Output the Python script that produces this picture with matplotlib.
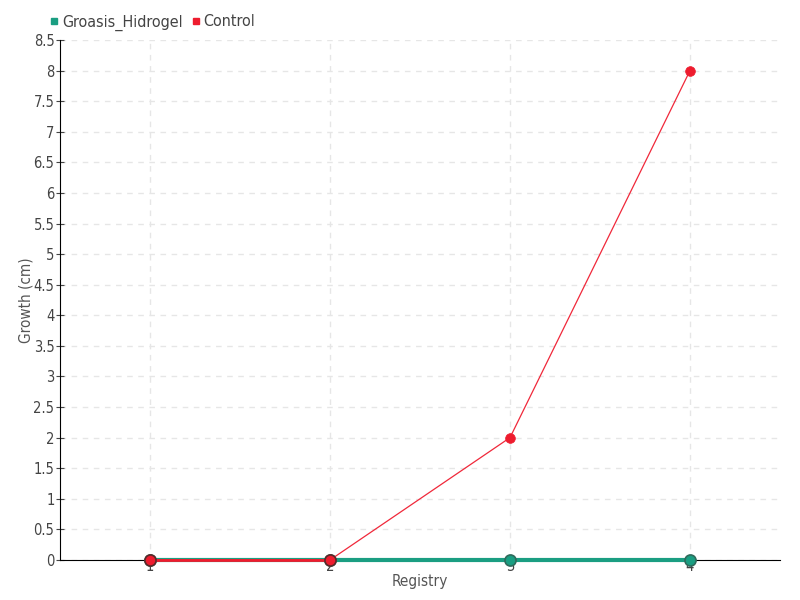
import matplotlib
matplotlib.use("Agg")
import matplotlib.pyplot as plt
import numpy as np

registry = [1, 2, 3, 4]
groasis = [0, 0, 0, 0]
control = [0, 0, 2, 8]
yticks = [0, 0.5, 1, 1.5, 2, 2.5, 3, 3.5, 4, 4.5, 5, 5.5, 6, 6.5, 7, 7.5, 8, 8.5]

plt.rcParams['font.family'] = ['DejaVu Sans']
plt.rcParams['font.stretch'] = 'condensed'

fig = plt.figure(figsize=(8, 6), dpi=100)
ax = fig.add_axes([60/800, 40/600, 720/800, 520/600])

green = "#1a9e82"
red = "#ee1c2e"
ax.plot(registry, groasis, color=green, lw=3, marker='o', ms=8,
        mfc=green, mec="#2f6b5c", mew=1.2, zorder=3, label="Groasis_Hidrogel", clip_on=False)
ax.plot(registry, control, color="#f0283a", lw=0.9, marker='o', ms=7,
        mfc=red, mec=red, mew=0.5, zorder=4, label="Control", clip_on=False)
ax.plot(registry[:2], control[:2], color=red, lw=2, zorder=4, clip_on=False)
ax.plot(registry[:2], control[:2], ls='none', marker='o', ms=8, mfc=red,
        mec="#5a2a2a", mew=1.2, zorder=5, clip_on=False)

ax.set_xlim(0.5, 4.5)
ax.set_ylim(0, 8.5)
ax.set_xticks(registry)
ax.set_xticklabels([str(r) for r in registry])
ax.set_yticks(yticks)
ax.set_yticklabels([f"{v:g}" for v in yticks])
ax.grid(True, color="#e6e6e6", ls=(0, (4, 4)), lw=1)
ax.set_axisbelow(True)
for s in ["top", "right"]:
    ax.spines[s].set_visible(False)
ax.spines["left"].set_color("black")
ax.spines["bottom"].set_color("black")
ax.tick_params(axis='both', direction='inout', length=6, colors="#444444",
               labelsize=10.5, pad=1)
ax.tick_params(axis='x', pad=-4)
ax.set_xlabel("Registry", fontsize=11, color="#555555", labelpad=0)
ax.set_ylabel("Growth (cm)", fontsize=11, color="#555555")
ax.yaxis.set_label_coords(-0.037, 0.5)

leg = fig.legend(handles=[
    plt.Line2D([], [], ls='none', marker='s', ms=5, color=green, label="Groasis_Hidrogel"),
    plt.Line2D([], [], ls='none', marker='s', ms=5, color=red, label="Control")],
    loc='upper left', bbox_to_anchor=(32/800, 1 + 0/600), ncol=2, frameon=False,
    fontsize=11.5, handletextpad=0.0, columnspacing=0.3, handlelength=1,
    labelcolor="#444444")

fig.savefig("out.png", dpi=100)
